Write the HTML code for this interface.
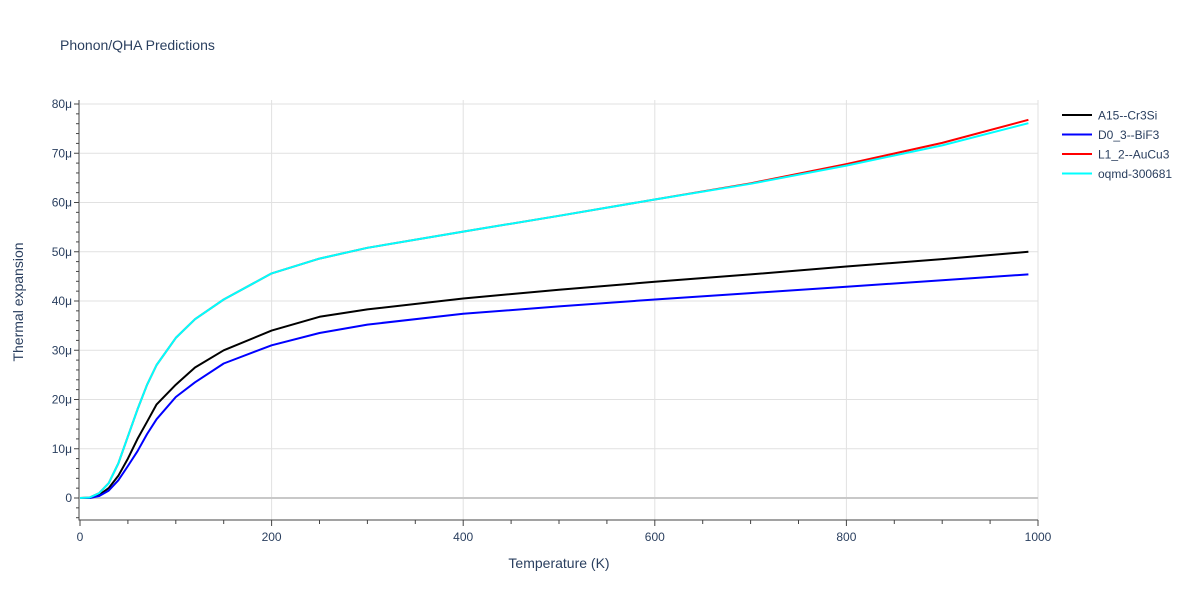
<!DOCTYPE html>
<html><head><meta charset="utf-8"><style>
body{margin:0;background:#fff;font-family:"Liberation Sans",sans-serif;}
svg text{fill:#2a3f5f;font-family:"Liberation Sans",sans-serif;}
</style></head><body>
<svg id="chart" width="1200" height="600" xmlns="http://www.w3.org/2000/svg">
<text x="60" y="50" font-size="14">Phonon/QHA Predictions</text>
<g id="grid"></g><g id="axes"></g><g id="series"></g><g id="legend"></g>
<text x="559" y="568" font-size="14" text-anchor="middle">Temperature (K)</text>
<text transform="translate(23,302) rotate(-90)" font-size="14" text-anchor="middle">Thermal expansion</text>
</svg>
<script>
const temps=[0,10,20,30,40,50,60,70,80,100,120,150,200,250,300,400,500,600,700,800,900,990];
const cr3si=[0,0,0.6,2,4.5,8,12,15.5,19,23,26.5,30,34,36.8,38.3,40.5,42.3,43.9,45.4,47,48.5,50];
const bif3=[0,0,0.4,1.5,3.6,6.5,9.5,13,16,20.5,23.5,27.3,31,33.5,35.2,37.4,38.9,40.3,41.6,42.9,44.2,45.4];
const aucu3=[0,0.1,1,3,7,12.5,18,23,27,32.5,36.3,40.3,45.6,48.6,50.8,54.1,57.3,60.6,63.9,67.8,72.1,76.8];
const oqmd=[0,0.1,1,3,7,12.5,18,23,27,32.5,36.3,40.3,45.6,48.6,50.8,54.1,57.3,60.6,63.8,67.5,71.6,76.1];
const xTicks=[0,200,400,600,800,1000];
const yTicks=[0,10,20,30,40,50,60,70,80];
const yLabels=["0","10μ","20μ","30μ","40μ","50μ","60μ","70μ","80μ"];
const seriesNames=["A15--Cr3Si","D0_3--BiF3","L1_2--AuCu3","oqmd-300681"];
const colors=["#000000","#0000ff","#ff0000","#00ffff"];
const NS="http://www.w3.org/2000/svg";
const X=t=>80+t*0.958, Y=v=>498-v*4.925;
function mk(tag,attrs,parent){const e=document.createElementNS(NS,tag);for(const k in attrs)e.setAttribute(k,attrs[k]);document.getElementById(parent).appendChild(e);return e;}
xTicks.forEach(t=>{
 if(t>0){const l=mk('line',{x1:X(t),x2:X(t),y1:100,y2:520,stroke:'#e1e1e1'},'grid');
 
 }
 const tx=mk('text',{x:X(t),y:541,'font-size':12,'text-anchor':'middle'},'axes');tx.textContent=t;
 
 
});
for(let t=0;t<=1000;t+=50){const l=mk('line',{x1:X(t),x2:X(t),y1:520,y2:t%200==0?526:524,stroke:'#444'},'axes');
 
 }
yTicks.forEach((v,i)=>{
 const l=mk('line',{x1:80,x2:1038,y1:Y(v),y2:Y(v),stroke:v==0?'#c8c8c8':'#e1e1e1','stroke-width':v==0?2:1},'grid');
 
 
 const tx=mk('text',{x:72,y:Y(v)+4,'font-size':12,'text-anchor':'end'},'axes');tx.textContent=yLabels[i];
 
 
});
for(let v=-4;v<=80;v+=2){const l=mk('line',{x1:v%10==0?74:76,x2:79,y1:Y(v),y2:Y(v),stroke:'#444'},'axes');
 
 }
const ax=mk('path',{d:'M79,100V520H1038',fill:'none',stroke:'#444'},'axes');


[cr3si,bif3,aucu3,oqmd].forEach((s,i)=>{
 const p=mk('path',{d:s.map((v,j)=>(j?'L':'M')+X(temps[j]).toFixed(1)+','+Y(v).toFixed(1)).join(''),fill:'none',stroke:colors[i],'stroke-width':2,'stroke-linejoin':'round'},'series');
 
 
 const ly=115+i*19.5;
 const ll=mk('line',{x1:1062,x2:1092,y1:ly,y2:ly,stroke:colors[i],'stroke-width':2},'legend');
 
 
 const lt=mk('text',{x:1098,y:ly+4.5,'font-size':12},'legend');lt.textContent=seriesNames[i];
 
 
});
</script>
</body></html>
